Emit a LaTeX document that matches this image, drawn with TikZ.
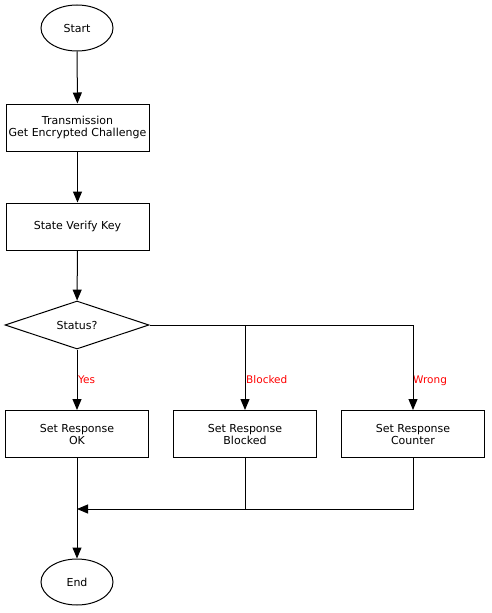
\documentclass[tikz,border=0pt]{standalone}
\usepackage{fontspec}
\setmainfont{DejaVu Sans}
\usetikzlibrary{arrows.meta,shapes.geometric}
\begin{document}
\begin{tikzpicture}[x=1pt,y=-1pt,
  every node/.style={font=\fontsize{11}{12}\selectfont},
  term/.style={draw,ellipse,line width=1pt,minimum width=72pt,minimum height=46pt,inner sep=0pt},
  proc/.style={draw,rectangle,line width=1pt,minimum width=143pt,minimum height=47pt,align=center,inner sep=0pt},
  decide/.style={draw,diamond,aspect=3,line width=1pt,minimum width=144pt,minimum height=48pt,inner sep=0pt},
  flow/.style={line width=1pt,-{Triangle[length=11pt,width=9pt]}},
  plain/.style={line width=1pt},
  lbl/.style={text=red,anchor=base west,inner sep=1pt,font=\fontsize{10.5}{12}\selectfont}]
\useasboundingbox (0,0) rectangle (491,613);
\node[term] (start) at (77,28) {Start};
\node[proc] (tx) at (77.5,127.5) {Transmission\\Get Encrypted Challenge};
\node[proc] (svk) at (77.5,226.5) {State Verify Key};
\node[decide] (st) at (77,325) {Status?};
\node[proc] (ok) at (77,434) {Set Response\\OK};
\node[proc] (bl) at (245,434) {Set Response\\Blocked};
\node[proc] (ct) at (413,434) {Set Response\\Counter};
\node[term] (end) at (77,582) {End};
\coordinate (merge) at (77,509);
\node[lbl] (lyes) at (77,383) {Yes};
\node[lbl] (lblk) at (245,383) {Blocked};
\node[lbl] (lwrg) at (412,383) {Wrong};
\draw[flow] (start) -- (tx);
\draw[flow] (tx) -- (svk);
\draw[flow] (svk) -- (st);
\draw[flow] (st) -- (ok);
\draw[plain] (st.east) -- (st.east -| ct.north);
\draw[flow] (st.east -| bl.north) -- (bl.north);
\draw[flow] (st.east -| ct.north) -- (ct.north);
\draw[plain] (bl.south) -- (bl.south |- merge);
\draw[flow] (ct.south) |- (merge);
\draw[flow] (ok.south) -- (end);
\end{tikzpicture}
\end{document}
